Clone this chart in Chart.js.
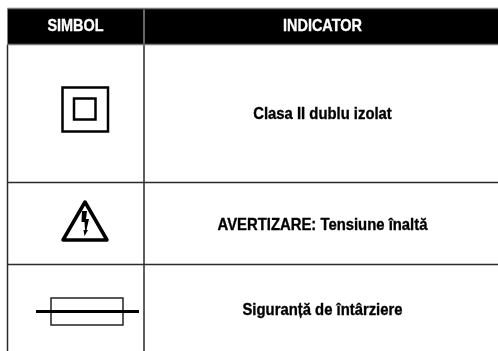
<!DOCTYPE html>
<html><head><meta charset="utf-8">
<style>html,body{margin:0;padding:0;background:#fff}#wrap{position:relative;width:498px;height:351px}</style>
<script src="https://cdn.jsdelivr.net/npm/chart.js@4"></script>
</head><body><div id="wrap"><canvas id="c" width="498" height="351"></canvas></div>
<script>
const headers = ['SIMBOL', 'INDICATOR'];
const indicators = ['Clasa II dublu izolat', 'AVERTIZARE: Tensiune înaltă', 'Siguranță de întârziere'];
const symbols = ['double-square', 'triangle', 'fuse'];
const columnEdges = [7.5, 144, 498];
const rowEdges = [8.5, 44.5, 182.5, 264.5, 351];
const columnCentres = [75.5, 322.5];
const rowTextCentres = [26.5, 114, 225, 310];
const symbolCentres = [[85.5, 109.5], [85.5, 221], [87.5, 311.5]];

function pic(w, h, draw) {
  const k = document.createElement('canvas');
  k.width = w; k.height = h;
  const g = k.getContext('2d');
  g.strokeStyle = '#000'; g.fillStyle = '#000';
  draw(g);
  return k;
}
const art = {
  'double-square': pic(49, 47, g => {
    g.lineWidth = 2.5; g.strokeRect(1.5, 1.5, 45.5, 44);
    g.strokeRect(13, 12.5, 21.5, 21);
  }),
  'triangle': pic(49, 44, g => {
    g.lineWidth = 3.5; g.lineJoin = 'round';
    g.beginPath(); g.moveTo(24, 3); g.lineTo(46, 41); g.lineTo(2, 41); g.closePath(); g.stroke();
    g.beginPath();
    g.moveTo(21, 12); g.lineTo(26, 12); g.lineTo(25, 20); g.lineTo(28, 20); g.lineTo(25.5, 31);
    g.lineTo(27, 31); g.lineTo(23.5, 37); g.lineTo(22.5, 31); g.lineTo(24, 31); g.lineTo(23.5, 23); g.lineTo(20.5, 23);
    g.closePath(); g.fill();
  }),
  'fuse': pic(105, 31, g => {
    g.strokeStyle = '#222'; g.lineWidth = 1.5;
    g.strokeRect(16, 2, 72, 27);
    g.fillRect(1, 14, 103, 3);
  })
};

const gridColor = '#2b2b2b';
const ruleDatasets = [];
rowEdges.slice(0, 4).forEach((y, i) => ruleDatasets.push({
  type: 'line', data: [{x: columnEdges[0], y}, {x: columnEdges[2], y}],
  borderColor: i < 2 ? '#777' : gridColor, borderWidth: 1.5, pointRadius: 0
}));
[columnEdges[0], columnEdges[1]].forEach(x => ruleDatasets.push({
  type: 'line', data: [{x, y: rowEdges[1]}, {x, y: rowEdges[4]}],
  borderColor: gridColor, borderWidth: 1.5, pointRadius: 0
}));
const symbolDataset = {
  type: 'scatter',
  data: symbolCentres.map(([x, y]) => ({x, y})),
  pointStyle: symbols.map(s => art[s]),
  pointRadius: 10
};

function condensedText(ctx, t, px, py, ratio) {
  ctx.save();
  ctx.translate(px, py);
  ctx.scale(ratio, 1);
  ctx.lineWidth = 0.35;
  ctx.strokeStyle = ctx.fillStyle;
  ctx.fillText(t, 0, 0);
  ctx.strokeText(t, 0, 0);
  ctx.restore();
}

const tablePlugin = {
  id: 'table',
  beforeDatasetsDraw(chart) {
    const {ctx, scales: {x, y}} = chart;
    ctx.save();
    ctx.fillStyle = '#000';
    ctx.fillRect(x.getPixelForValue(columnEdges[0]), y.getPixelForValue(rowEdges[0]),
      x.getPixelForValue(columnEdges[2]) - x.getPixelForValue(columnEdges[0]),
      y.getPixelForValue(rowEdges[1]) - y.getPixelForValue(rowEdges[0]));
    ctx.restore();
  },
  afterDatasetsDraw(chart) {
    const {ctx, scales: {x, y}} = chart;
    ctx.save();
    ctx.strokeStyle = '#ccc'; ctx.lineWidth = 1;
    ctx.beginPath();
    ctx.moveTo(x.getPixelForValue(columnEdges[1]), y.getPixelForValue(rowEdges[0] + 1));
    ctx.lineTo(x.getPixelForValue(columnEdges[1]), y.getPixelForValue(rowEdges[1] - 1));
    ctx.stroke();
    ctx.textAlign = 'center'; ctx.textBaseline = 'middle';
    ctx.font = 'bold 17px "Liberation Sans", sans-serif';
    ctx.fillStyle = '#fff';
    headers.forEach((t, i) => condensedText(ctx, t, x.getPixelForValue(columnCentres[i]), y.getPixelForValue(rowTextCentres[0]), 0.85));
    ctx.font = 'bold 16.5px "Liberation Sans", sans-serif';
    ctx.fillStyle = '#000';
    indicators.forEach((t, i) => condensedText(ctx, t, x.getPixelForValue(columnCentres[1]), y.getPixelForValue(rowTextCentres[i + 1]), 0.9));
    ctx.restore();
  }
};

new Chart(document.getElementById('c'), {
  data: {datasets: [...ruleDatasets, symbolDataset]},
  plugins: [tablePlugin],
  options: {
    responsive: false, animation: false, events: [],
    layout: {padding: 0, autoPadding: false},
    plugins: {legend: {display: false}, tooltip: {enabled: false}},
    scales: {
      x: {type: 'linear', min: 0, max: 498, display: false},
      y: {type: 'linear', min: 0, max: 351, reverse: true, display: false}
    }
  }
});
</script></body></html>
